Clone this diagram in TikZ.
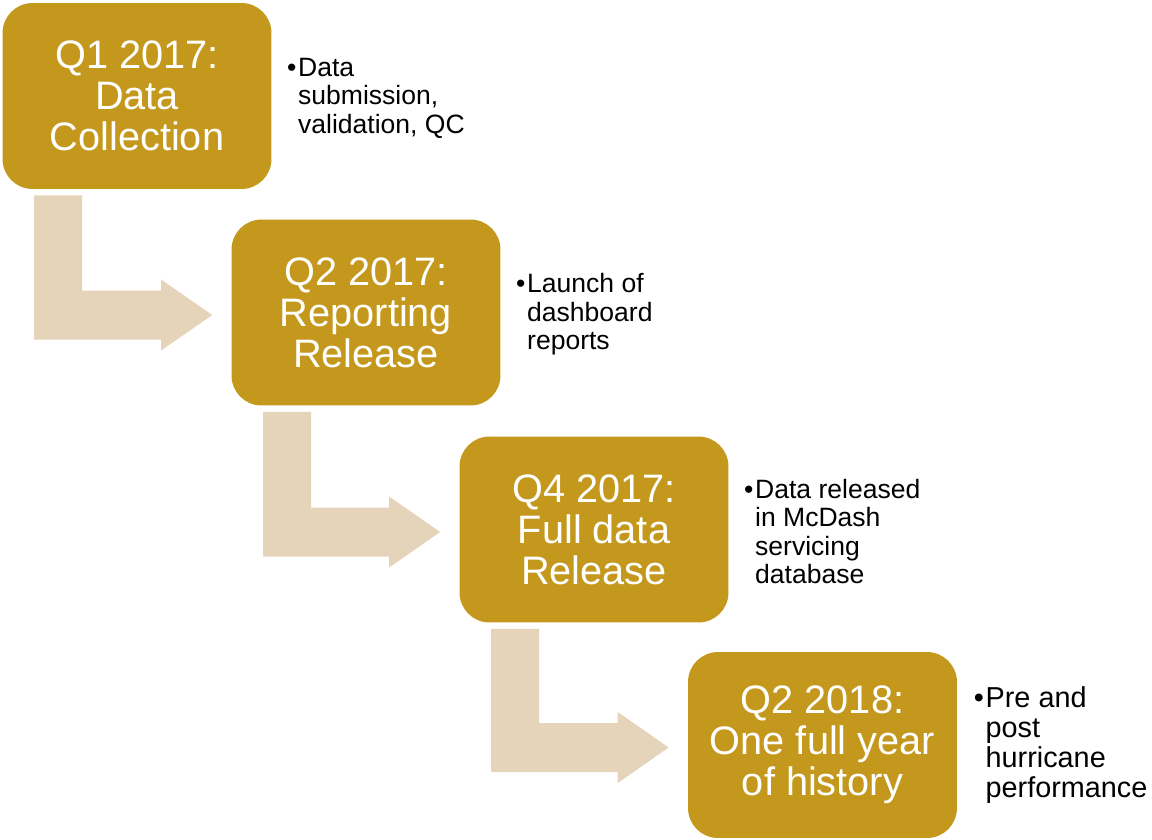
\documentclass[tikz,border=0pt]{standalone}
\usepackage{fontspec}
\setmainfont{Liberation Sans}
\usetikzlibrary{calc}
\definecolor{gold}{RGB}{196,152,29}
\definecolor{sand}{RGB}{229,212,186}
% bent arrow from below one stage to the left of the next
\newcommand{\bentflow}[2]{%
\path (#1.south west) ++(32,6) coordinate (t) (#2.west) ++(-19,2.5) coordinate (h);
\fill[flow] (t) -- ++(48,0) |- ($(h)+(-51,-24.5)$) -- ++(0,-11) -- (h) -- ++(-51,35.5) -- ++(0,-11) -| (t) -- cycle;}
\begin{document}
\begin{tikzpicture}[x=0.02cm, y=-0.02cm,
  stage/.style={fill=gold, text=white, rounded corners=0.6cm, minimum width=5.38cm, minimum height=3.72cm, inner sep=0pt, align=center, font=\fontsize{22.6}{23.3}\selectfont},
  note/.style={anchor=west, inner sep=0pt, align=left, font=\fontsize{15.1}{16.2}\selectfont},
  flow/.style={fill=sand}]
\useasboundingbox (0,0) rectangle (1152,839);
\node[stage] (s1) at (137,96) {Q1 2017:\\Data\\Collection};
\node[stage] (s2) at (366,312.5) {Q2 2017:\\Reporting\\Release};
\node[stage] (s3) at (594,529.5) {Q4 2017:\\Full data\\Release};
\node[stage] (s4) at (822.5,745) {Q2 2018:\\One full year\\of history};
\node[note] (n1) at ($(s1.east)+(26,2)$) {\llap{\textbullet\hspace{1pt}}Data\\submission,\\validation, QC};
\node[note] (n2) at ($(s2.east)+(26,2)$) {\llap{\textbullet\hspace{1pt}}Launch of\\dashboard\\reports};
\node[note] (n3) at ($(s3.east)+(26,2)$) {\llap{\textbullet\hspace{1pt}}Data released\\in McDash\\servicing\\database};
\node[note, font=\fontsize{16.4}{16.9}\selectfont] (n4) at ($(s4.east)+(28,0)$) {\llap{\textbullet\hspace{1pt}}Pre and\\post\\hurricane\\performance};
\bentflow{s1}{s2}
\bentflow{s2}{s3}
\bentflow{s3}{s4}
\end{tikzpicture}
\end{document}
